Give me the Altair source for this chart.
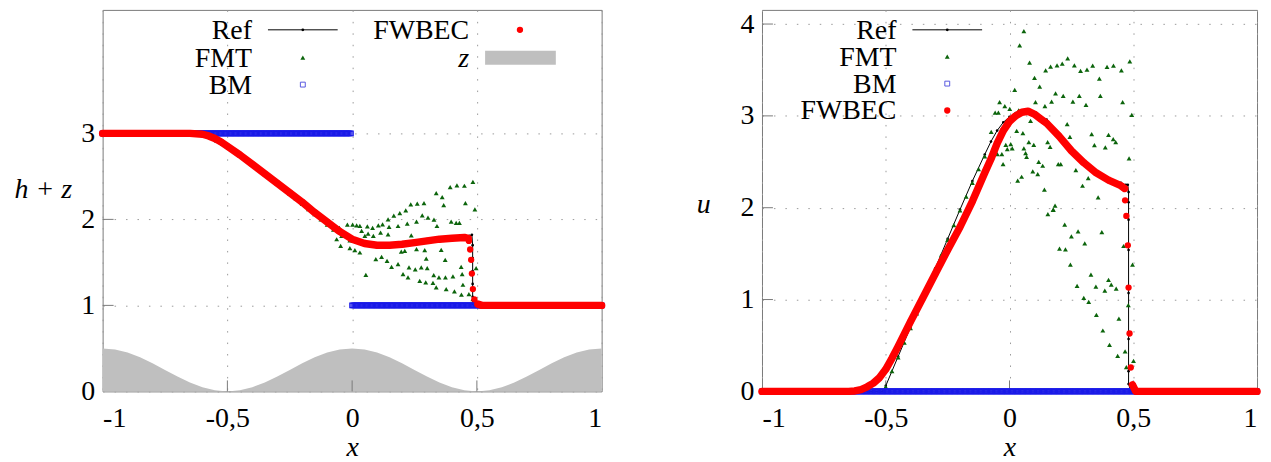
import altair as alt
import numpy as np
import pandas as pd

FONT = "'Liberation Serif', 'DejaVu Serif', serif"
FS = 28
RED = "#ff0000"
GREEN = "#0b640b"
BLUE = "#1a1ae8"
GRAY = "#bfbfbf"
FRAME = "#7a7a7a"

X_TICKS = [-1, -0.5, 0, 0.5, 1]
Y_TICKS_L = [0, 1, 2, 3]
Y_TICKS_R = [0, 1, 2, 3, 4]

# ---------------- left panel : h + z ----------------
REF_L_X = [-1.0, -0.9, -0.8, -0.7, -0.65, -0.62, -0.6, -0.575, -0.55, -0.525, -0.5, -0.45, -0.4,
           -0.35, -0.3, -0.25, -0.2, -0.15, -0.1, -0.05, 0.0, 0.05, 0.1, 0.15, 0.2, 0.25, 0.3,
           0.35, 0.4, 0.45, 0.47, 0.48, 0.483, 0.483, 0.483, 0.483, 0.483, 0.483, 0.49, 0.5,
           0.6, 0.7, 0.8, 0.9, 1.0]
REF_L_Y = [3.0, 3.0, 3.0, 3.0, 3.0, 2.995, 2.98, 2.95, 2.91, 2.87, 2.83, 2.73, 2.62,
           2.51, 2.40, 2.29, 2.17, 2.05, 1.94, 1.83, 1.74, 1.70, 1.69, 1.70, 1.71, 1.73, 1.75,
           1.77, 1.79, 1.80, 1.81, 1.82, 1.70, 1.55, 1.40, 1.25, 1.10, 1.02, 1.0, 1.0,
           1.0, 1.0, 1.0, 1.0, 1.0]

FW_L_X = [-1.0, -0.95, -0.9, -0.85, -0.8, -0.75, -0.7, -0.65, -0.6, -0.575, -0.55, -0.525, -0.5,
          -0.45, -0.4, -0.35, -0.3, -0.25, -0.2, -0.15, -0.1, -0.05, 0.0, 0.05, 0.1, 0.15, 0.2,
          0.25, 0.3, 0.35, 0.4, 0.45, 0.465]
FW_L_Y = [3.0, 3.0, 3.0, 3.0, 3.0, 3.0, 3.0, 3.0, 2.99, 2.97, 2.94, 2.90, 2.85,
          2.75, 2.64, 2.53, 2.42, 2.31, 2.20, 2.08, 1.97, 1.86, 1.77, 1.72, 1.70, 1.70, 1.71,
          1.73, 1.75, 1.77, 1.78, 1.79, 1.78]
FW_L_SHOCK_X = [0.468, 0.473, 0.477, 0.48, 0.484, 0.49]
FW_L_SHOCK_Y = [1.75, 1.65, 1.53, 1.37, 1.19, 1.07]
FW_L_TAIL_X = [0.504, 0.52, 0.55, 0.6, 0.65, 0.7, 0.75, 0.8, 0.85, 0.9, 0.95, 1.0]
FW_L_TAIL_Y = [1.015, 1.0, 1.0, 1.0, 1.0, 1.0, 1.0, 1.0, 1.0, 1.0, 1.0, 1.0]

FMT_L_X = [-1.0, -0.95, -0.9, -0.85, -0.8, -0.75, -0.7, -0.65, -0.625, -0.6, -0.575, -0.55, -0.525,
           -0.5, -0.475, -0.45, -0.425, -0.4, -0.375, -0.35, -0.325, -0.3, -0.275, -0.25, -0.225,
           -0.2, -0.175, -0.15, -0.125, -0.1, -0.075,
           0.484, 0.450, 0.420, 0.393, 0.337, 0.361, 0.235, 0.261, 0.288, 0.454, 0.367, 0.215,
           0.492, 0.191, 0.167, 0.281, 0.304, 0.144, 0.328, 0.258, 0.221, 0.397, 0.417, 0.43,
           0.184, 0.148, 0.122, 0.105, 0.082, 0.061, 0.031, 0.018, 0.002, -0.019, -0.051, 0.34,
           0.038, 0.064, 0.114, 0.144, 0.085, 0.051, 0.237, -0.042, -0.062, -0.009, 0.018,
           -0.046, -0.009, 0.011, 0.031, 0.211, 0.197, 0.258, 0.291, 0.357, 0.118, 0.095, 0.14,
           0.184, 0.158, 0.373, 0.297, 0.228, 0.253, 0.277, 0.301, 0.437, 0.497, 0.055, 0.204,
           0.224, 0.327, 0.348, 0.374, 0.404, 0.441, 0.271, 0.295, 0.324, 0.337, 0.377, 0.444,
           0.41, 0.438, 0.468, 0.484, 0.49,
           0.52, 0.55, 0.6, 0.65, 0.7, 0.75, 0.8, 0.85, 0.9, 0.95, 1.0]
FMT_L_Y = [3.0, 3.0, 3.0, 3.0, 3.0, 3.0, 3.0, 3.0, 3.0, 2.99, 2.97, 2.94, 2.91,
           2.87, 2.82, 2.77, 2.71, 2.66, 2.60, 2.54, 2.48, 2.42, 2.36, 2.30, 2.24,
           2.18, 2.12, 2.06, 2.00, 1.94, 1.88,
           2.437, 2.391, 2.395, 2.375, 2.306, 2.26, 2.175, 2.183, 2.19, 2.19, 2.167, 2.105,
           2.117, 2.074, 2.043, 2.047, 2.02, 2.0, 1.998, 1.973, 1.95, 1.973, 1.96, 1.96,
           1.923, 1.912, 1.943, 1.93, 1.9, 1.918, 1.925, 1.93, 1.94, 1.94, 1.9, 1.923,
           1.866, 1.835, 1.846, 1.827, 1.808, 1.808, 1.815, 1.808, 1.769, 1.757, 1.742,
           1.692, 1.665, 1.642, 1.615, 1.634, 1.626, 1.653, 1.642, 1.646, 1.564, 1.537, 1.518,
           1.48, 1.449, 1.529, 1.545, 1.441, 1.418, 1.441, 1.433, 1.449, 1.433, 1.356, 1.364,
           1.325, 1.352, 1.325, 1.325, 1.337, 1.364, 1.286, 1.267, 1.263, 1.209, 1.19, 1.24,
           1.162, 1.124, 1.132, 1.074, 1.035,
           1.0, 1.0, 1.0, 1.0, 1.0, 1.0, 1.0, 1.0, 1.0, 1.0, 1.0]

Z_X = [-1.0, -0.95, -0.9, -0.85, -0.8, -0.75, -0.7, -0.65, -0.6, -0.55, -0.5, -0.45, -0.4, -0.35,
       -0.3, -0.25, -0.2, -0.15, -0.1, -0.05, 0.0, 0.05, 0.1, 0.15, 0.2, 0.25, 0.3, 0.35, 0.4,
       0.45, 0.5, 0.55, 0.6, 0.65, 0.7, 0.75, 0.8, 0.85, 0.9, 0.95, 1.0]
Z_Y = [0.5, 0.488, 0.452, 0.397, 0.327, 0.25, 0.173, 0.103, 0.048, 0.012, 0.0, 0.012, 0.048, 0.103,
       0.173, 0.25, 0.327, 0.397, 0.452, 0.488, 0.5, 0.488, 0.452, 0.397, 0.327, 0.25, 0.173,
       0.103, 0.048, 0.012, 0.0, 0.012, 0.048, 0.103, 0.173, 0.25, 0.327, 0.397, 0.452, 0.488, 0.5]

BM_X = np.round(np.arange(-1.0, 1.0001, 0.005), 4)
BM_L_LEVELS = (3.0, 1.0)   # value left / right of x = 0
BM_R_LEVEL = 0.0

# ---------------- right panel : u ----------------
REF_R_X = [-1.0, -0.9, -0.8, -0.7, -0.6, -0.55, -0.51, -0.5, -0.45, -0.4, -0.35, -0.3, -0.25,
           -0.2, -0.15, -0.1, -0.075, -0.05, -0.025, 0.0, 0.025, 0.05, 0.075, 0.1, 0.15, 0.2,
           0.25, 0.3, 0.35, 0.4, 0.45, 0.47, 0.478, 0.481, 0.481, 0.481, 0.481, 0.481, 0.481,
           0.481, 0.481, 0.49, 0.5, 0.6, 0.7, 0.8, 0.9, 1.0]
REF_R_Y = [0.0, 0.0, 0.0, 0.0, 0.0, 0.0, 0.0, 0.06, 0.38, 0.70, 1.02, 1.34, 1.66,
           1.98, 2.29, 2.58, 2.72, 2.84, 2.93, 2.99, 3.03, 3.05, 3.05, 3.03, 2.96, 2.81,
           2.65, 2.51, 2.40, 2.32, 2.27, 2.25, 2.25, 2.17, 2.06, 1.87, 1.54, 1.07, 0.57,
           0.22, 0.08, 0.0, 0.0, 0.0, 0.0, 0.0, 0.0, 0.0]

FW_R_X = [-1.0, -0.95, -0.9, -0.85, -0.8, -0.75, -0.7, -0.65, -0.625, -0.6, -0.575, -0.55, -0.525,
          -0.5, -0.475, -0.45, -0.4, -0.35, -0.3, -0.25, -0.2, -0.15, -0.1, -0.075, -0.05, -0.025,
          0.0, 0.025, 0.05, 0.075, 0.1, 0.125, 0.15, 0.2, 0.25, 0.3, 0.35, 0.4, 0.45, 0.465]
FW_R_Y = [0.0, 0.0, 0.0, 0.0, 0.0, 0.0, 0.0, 0.0, 0.005, 0.02, 0.05, 0.09, 0.15,
          0.24, 0.36, 0.49, 0.76, 1.02, 1.28, 1.54, 1.79, 2.07, 2.38, 2.53, 2.70, 2.84,
          2.94, 3.00, 3.04, 3.05, 3.02, 2.97, 2.92, 2.78, 2.62, 2.49, 2.38, 2.30, 2.24, 2.21]
FW_R_SHOCK_X = [0.467, 0.472, 0.478, 0.481, 0.485, 0.49]
FW_R_SHOCK_Y = [2.08, 1.91, 1.59, 1.13, 0.63, 0.26]
FW_R_TAIL_X = [0.497, 0.51, 0.55, 0.6, 0.65, 0.7, 0.75, 0.8, 0.85, 0.9, 0.95, 1.0]
FW_R_TAIL_Y = [0.07, 0.0, 0.0, 0.0, 0.0, 0.0, 0.0, 0.0, 0.0, 0.0, 0.0, 0.0]

FMT_R_X = [-1.0, -0.95, -0.9, -0.85, -0.8, -0.75, -0.7, -0.65, -0.6, -0.55, -0.525,
           -0.5, -0.475, -0.45, -0.425, -0.4, -0.375, -0.35, -0.325, -0.3, -0.275, -0.25, -0.225,
           -0.2, -0.175, -0.15, -0.125, -0.1,
           0.058, 0.041, 0.081, 0.235, 0.166, 0.192, 0.213, 0.262, 0.287, 0.313, 0.336, 0.146,
           0.394, 0.42, 0.452, 0.486, 0.101, 0.363, 0.122, 0.021, 0.186, 0.217, 0.282, 0.367,
           -0.04, 0.105, 0.17, 0.256, 0.457, -0.019, 0.001, 0.143, 0.309, -0.058, -0.045, 0.037,
           0.494, 0.085, 0.233, 0.029, 0.054, -0.074, 0.332, 0.244, 0.40, 0.419, 0.429, 0.078,
           0.098, 0.154, 0.164, 0.343, 0.387, -0.015, 0.005, -0.009, 0.011, 0.058, 0.065, 0.069,
           -0.031, -0.049, -0.076, -0.026, 0.118, 0.134, 0.197, 0.207, 0.268, 0.483, 0.094,
           0.114, 0.049, 0.033, 0.318, 0.295, 0.141, 0.358, 0.184, 0.177,
           0.176, 0.155, 0.223, 0.277, 0.25, 0.373, 0.304, 0.202, 0.226, 0.461, 0.246, 0.497,
           0.329, 0.40, 0.411, 0.431, 0.273, 0.349, 0.385, 0.30, 0.32, 0.48, 0.351, 0.442,
           0.377, 0.404, 0.467, 0.437, 0.501, 0.472, 0.508,
           0.52, 0.55, 0.6, 0.65, 0.7, 0.75, 0.8, 0.85, 0.9, 0.95, 1.0]
FMT_R_Y = [0.0, 0.0, 0.0, 0.0, 0.0, 0.0, 0.0, 0.0, 0.0, 0.0, 0.0,
           0.05, 0.22, 0.37, 0.53, 0.69, 0.85, 1.01, 1.17, 1.33, 1.49, 1.65, 1.81,
           1.97, 2.12, 2.27, 2.42, 2.56,
           3.924, 3.768, 3.58, 3.627, 3.536, 3.55, 3.568, 3.55, 3.49, 3.504, 3.547, 3.496,
           3.533, 3.547, 3.496, 3.594, 3.413, 3.406, 3.319, 3.283, 3.246, 3.217, 3.217, 3.217,
           3.149, 3.149, 3.156, 3.156, 3.149, 3.105, 3.076, 3.105, 3.12, 3.036, 3.036, 3.06,
           3.011, 2.946, 2.909, 2.837, 2.812, 2.826, 2.801, 2.772, 2.794, 2.746, 2.714, 2.714,
           2.685, 2.714, 2.663, 2.681, 2.656, 2.685, 2.692, 2.638, 2.645, 2.645, 2.594, 2.554,
           2.583, 2.583, 2.511, 2.475, 2.5, 2.457, 2.475, 2.475, 2.41, 2.536, 2.395,
           2.366, 2.337, 2.294, 2.323, 2.239, 2.196, 2.112, 2.022, 1.978,
           1.975, 1.93, 1.815, 1.743, 1.688, 1.735, 1.612, 1.554, 1.547, 1.583, 1.38, 1.38,
           1.271, 1.214, 1.163, 1.12, 1.149, 1.141, 1.098, 1.018, 0.975, 0.939, 0.833, 0.793,
           0.663, 0.507, 0.435, 0.387, 0.333, 0.264, 0.054,
           0.0, 0.0, 0.0, 0.0, 0.0, 0.0, 0.0, 0.0, 0.0, 0.0, 0.0]

H = 383
W_L = 501
W_R = 497
YMAX_L = 4.436
YMAX_R = 4.154
ONE = pd.DataFrame({"k": [0]})


def xy(xs, ys):
    return pd.DataFrame({"x": list(xs), "y": list(ys), "i": list(range(len(xs)))})


def encs(ymax, yticks, ytitle, tx, ty):
    xenc = alt.X("x:Q", scale=alt.Scale(domain=[-1, 1], nice=False, zero=False),
                 axis=alt.Axis(values=X_TICKS, title="x",
                               labelExpr="replace(toString(datum.value), '.', ',')",
                               titleY=64, titleBaseline="alphabetic", labelPadding=13))
    yenc = alt.Y("y:Q", scale=alt.Scale(domain=[0, ymax], nice=False),
                 axis=alt.Axis(values=yticks, format="d", title=ytitle, titleAngle=0,
                               titleX=tx, titleY=ty, titleAlign="center",
                               titleBaseline="middle", labelPadding=8))
    return xenc, yenc


def legend_text(label, x, y, italic=False):
    return alt.Chart(ONE).mark_text(text=label, font=FONT, fontSize=FS, align="right",
                                    baseline="alphabetic", color="black",
                                    fontStyle="italic" if italic else "normal").encode(
        x=alt.value(x), y=alt.value(y))


def legend_ref(x1, x2, cx, y):
    return [alt.Chart(ONE).mark_rule(color="black", strokeWidth=1).encode(
                x=alt.value(x1), x2=alt.value(x2), y=alt.value(y)),
            alt.Chart(ONE).mark_point(filled=True, color="black", size=8, opacity=1).encode(
                x=alt.value(cx), y=alt.value(y))]


def legend_fmt(cx, y):
    return alt.Chart(ONE).mark_point(shape="triangle-up", filled=True, color=GREEN, size=24,
                                     opacity=1).encode(x=alt.value(cx), y=alt.value(y))


def legend_bm(cx, y):
    return alt.Chart(ONE).mark_point(shape="square", filled=False, color="#5a5ae0", size=24,
                                     strokeWidth=1, opacity=1).encode(x=alt.value(cx), y=alt.value(y))


def legend_fw(cx, y):
    return alt.Chart(ONE).mark_circle(color=RED, size=40, opacity=1).encode(
        x=alt.value(cx), y=alt.value(y))


def panel(ref, fmt, bm, fw, fw_shock, fw_tail, xenc, yenc, yticks, width, z=None, legend=()):
    layers = []
    if z is not None:
        layers.append(alt.Chart(z).mark_area(color=GRAY, opacity=1).encode(x=xenc, y=yenc))
    ytk = pd.DataFrame({"y": [v for v in yticks if v != 0]})
    xtk = pd.DataFrame({"x": [-0.5, 0.0, 0.5]})
    layers.append(alt.Chart(ytk).mark_rule(color=FRAME, strokeWidth=1).encode(
        y=yenc, x=alt.value(0), x2=alt.value(11)))
    layers.append(alt.Chart(xtk).mark_rule(color=FRAME, strokeWidth=1).encode(
        x=xenc, y=alt.value(H), y2=alt.value(H - 11)))
    layers.append(alt.Chart(ref).mark_line(color="black", strokeWidth=1).encode(
        x=xenc, y=yenc, order="i:Q"))
    layers.append(alt.Chart(ref).mark_point(filled=True, color="black", size=7, opacity=1).encode(
        x=xenc, y=yenc))
    layers.append(alt.Chart(fmt).mark_point(shape="triangle-up", filled=True, color=GREEN,
                                            size=24, opacity=1).encode(x=xenc, y=yenc))
    layers.append(alt.Chart(bm).mark_point(shape="square", filled=False, color=BLUE, size=22,
                                           strokeWidth=1.2, opacity=1).encode(x=xenc, y=yenc))
    for seg in (fw, fw_tail):
        layers.append(alt.Chart(seg).mark_line(color=RED, strokeWidth=7.5, strokeCap="round",
                                               strokeJoin="round").encode(x=xenc, y=yenc, order="i:Q"))
    for seg in (fw, fw_shock, fw_tail):
        layers.append(alt.Chart(seg).mark_circle(color=RED, size=40, opacity=1).encode(
            x=xenc, y=yenc))
    layers.extend(legend)
    return alt.layer(*layers).properties(width=width, height=H)


# left
xl, yl = encs(YMAX_L, Y_TICKS_L, "h + z", -60, 180)
bm_left = xy(BM_X, [BM_L_LEVELS[0] if v < 0 else BM_L_LEVELS[1] for v in BM_X])
leg_l = []
rows_l = [20, 48, 75]
leg_l.append(legend_text("Ref", 150, rows_l[0] + 9))
leg_l += legend_ref(166, 236, 201, rows_l[0])
leg_l.append(legend_text("FMT", 150, rows_l[1] + 9))
leg_l.append(legend_fmt(201, rows_l[1]))
leg_l.append(legend_text("BM", 150, rows_l[2] + 9))
leg_l.append(legend_bm(201, rows_l[2]))
leg_l.append(legend_text("FWBEC", 368, rows_l[0] + 9))
leg_l.append(legend_fw(419, rows_l[0]))
leg_l.append(legend_text("z", 368, rows_l[1] + 9, italic=True))
leg_l.append(alt.Chart(ONE).mark_rect(color=GRAY).encode(
    x=alt.value(384), x2=alt.value(455), y=alt.value(rows_l[1] - 7), y2=alt.value(rows_l[1] + 7)))

left = panel(xy(REF_L_X, REF_L_Y), xy(FMT_L_X, FMT_L_Y), bm_left,
             xy(FW_L_X, FW_L_Y), xy(FW_L_SHOCK_X, FW_L_SHOCK_Y), xy(FW_L_TAIL_X, FW_L_TAIL_Y),
             xl, yl, Y_TICKS_L, W_L, z=xy(Z_X, Z_Y), legend=leg_l)

# right
xr, yr = encs(YMAX_R, Y_TICKS_R, "u", -59, 195)
bm_right = xy(BM_X, [BM_R_LEVEL for _ in BM_X])
rows_r = [20, 47, 74, 101]
leg_r = []
leg_r.append(legend_text("Ref", 135, rows_r[0] + 9))
leg_r += legend_ref(151, 221, 186, rows_r[0])
leg_r.append(legend_text("FMT", 135, rows_r[1] + 9))
leg_r.append(legend_fmt(186, rows_r[1]))
leg_r.append(legend_text("BM", 135, rows_r[2] + 9))
leg_r.append(legend_bm(186, rows_r[2]))
leg_r.append(legend_text("FWBEC", 135, rows_r[3] + 9))
leg_r.append(legend_fw(186, rows_r[3]))

right = panel(xy(REF_R_X, REF_R_Y), xy(FMT_R_X, FMT_R_Y), bm_right,
              xy(FW_R_X, FW_R_Y), xy(FW_R_SHOCK_X, FW_R_SHOCK_Y), xy(FW_R_TAIL_X, FW_R_TAIL_Y),
              xr, yr, Y_TICKS_R, W_R, legend=leg_r)

chart = alt.hconcat(left, right, spacing=161, bounds="flush").properties(
    padding={"left": 5, "top": 0, "right": 0, "bottom": 0}
).configure_view(stroke=FRAME, strokeWidth=1).configure_axis(
    labelFont=FONT, labelFontSize=FS, labelColor="black",
    titleFont=FONT, titleFontSize=FS, titleFontStyle="italic", titleFontWeight="normal",
    titleColor="black", domain=False, ticks=False, tickSize=0,
    grid=True, gridColor="#9a9a9a", gridDash=[1.5, 10], gridWidth=1
)

chart.save("out.html", embed_options={"renderer": "svg", "actions": False})
